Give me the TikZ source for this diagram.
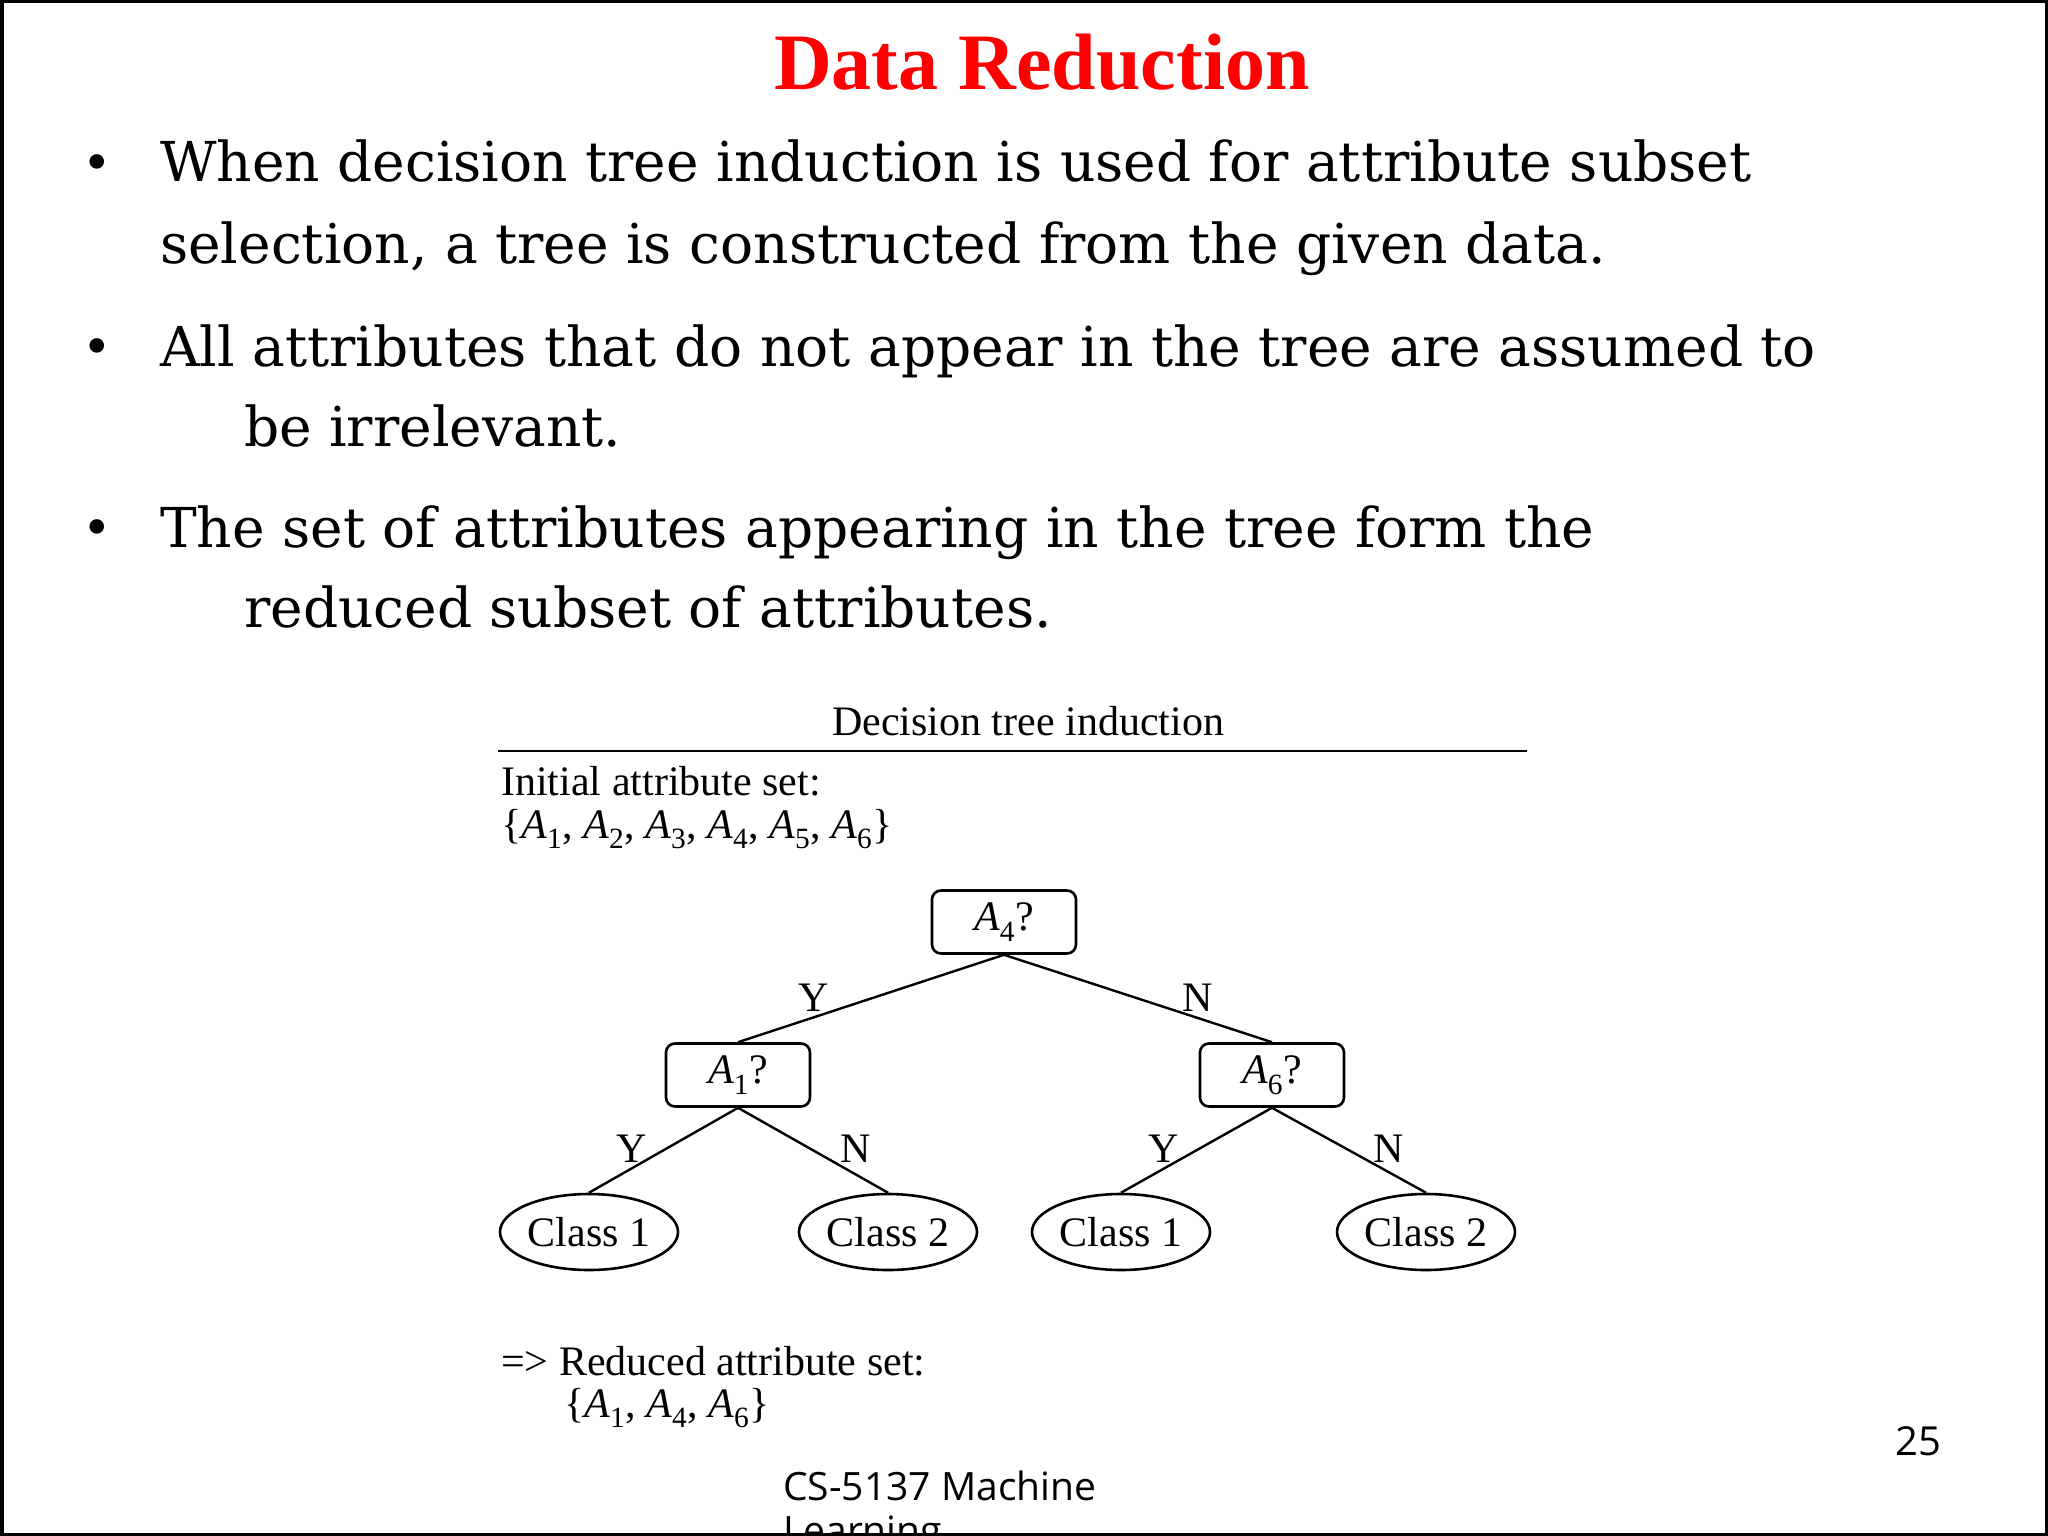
\documentclass[tikz,border=0pt]{standalone}
\usepackage{fontspec}
\setmainfont{DejaVu Serif}
\newfontfamily\titlefont{Liberation Serif}
\newfontfamily\figfont{Liberation Serif}
\newfontfamily\footfont{Open Sans}
\usetikzlibrary{shapes.geometric}
\newcommand{\Ai}[1]{\textit{A}\textsubscript{#1}}
\begin{document}
\begin{tikzpicture}[x=1pt,y=-1pt,
  bodytext/.style={anchor=base west,inner sep=0pt,font=\fontsize{55}{66}\selectfont},
  bul/.style={anchor=base west,inner sep=0pt,font=\fontsize{50}{60}\selectfont},
  fig/.style={inner sep=0pt,font=\figfont\fontsize{42}{50}\selectfont},
  qbox/.style={draw,line width=2.6pt,rounded corners=9pt,minimum width=144pt,minimum height=63pt,inner sep=0pt,font=\figfont\fontsize{42}{50}\selectfont},
  leaf/.style={draw,line width=2.6pt,ellipse,minimum width=178pt,minimum height=76pt,inner sep=0pt,font=\figfont\fontsize{42}{50}\selectfont},
  edge/.style={line width=2.4pt},
  lab/.style={inner sep=0pt,font=\figfont\fontsize{42}{50}\selectfont}]
\useasboundingbox (0,0) rectangle (2048,1536);
\fill[white] (0,0) rectangle (2048,1536);
\begin{scope}
\clip (0,0) rectangle (2048,1536);
\node[anchor=base,inner sep=0pt,text=red,font=\titlefont\bfseries\fontsize{80}{90}\selectfont] (title) at (1042,90) {Data Reduction};
\node[bul] (b1) at (82,180) {•};
\node[bodytext] (t1) at (160,182) {When decision tree induction is used for attribute subset};
\node[bodytext] (t1b) at (160,263) {selection, a tree is constructed from the given data.};
\node[bul] (b2) at (82,364) {•};
\node[bodytext] (t2) at (160,366) {All attributes that do not appear in the tree are assumed to};
\node[bodytext] (t2b) at (244,446) {be irrelevant.};
\node[bul] (b3) at (82,545) {•};
\node[bodytext] (t3) at (160,547) {The set of attributes appearing in the tree form the};
\node[bodytext] (t3b) at (244,627) {reduced subset of attributes.};

\node[fig,anchor=base] (dti) at (1028,735) {Decision tree induction};
\draw[line width=2.6pt] (498,751) -- (1527,751);
\node[fig,anchor=base west] (ias) at (501,795) {Initial attribute set:};
\node[fig,anchor=base west] (iasv) at (501,838) {\{\Ai{1}, \Ai{2}, \Ai{3}, \Ai{4}, \Ai{5}, \Ai{6}\}};

\node[qbox] (a4) at (1004,922) {\Ai{4}?};
\node[qbox] (a1) at (738,1075) {\Ai{1}?};
\node[qbox] (a6) at (1272,1075) {\Ai{6}?};
\node[leaf] (c1) at (589,1232) {Class 1};
\node[leaf] (c2) at (888,1232) {Class 2};
\node[leaf] (c3) at (1121,1232) {Class 1};
\node[leaf] (c4) at (1426,1232) {Class 2};
\draw[edge] (a4.south) -- (a1.north);
\draw[edge] (a4.south) -- (a6.north);
\draw[edge] (a1.south) -- (c1.north);
\draw[edge] (a1.south) -- (c2.north);
\draw[edge] (a6.south) -- (c3.north);
\draw[edge] (a6.south) -- (c4.north);
\node[lab] (ly1) at (814,998) {Y};
\node[lab] (ln1) at (1198,998) {N};
\node[lab] (ly2) at (632,1149) {Y};
\node[lab] (ln2) at (856,1149) {N};
\node[lab] (ly3) at (1164,1149) {Y};
\node[lab] (ln3) at (1389,1149) {N};
\node[fig,anchor=base west] (ras) at (501,1375) {=> Reduced attribute set:};
\node[fig,anchor=base west] (rasv) at (564,1417) {\{\Ai{1}, \Ai{4}, \Ai{6}\}};

\node[anchor=base,inner sep=0pt,font=\footfont\fontsize{40}{46}\selectfont] (pg) at (1918,1455) {25};
\node[anchor=base west,inner sep=0pt,font=\footfont\fontsize{39}{46}\selectfont] (ft) at (783,1500) {CS-5137 Machine};
\node[anchor=base west,inner sep=0pt,font=\footfont\fontsize{39}{46}\selectfont] (ft2) at (783,1544) {Learning};
\end{scope}
\draw[line width=7pt] (0,0) rectangle (2048,1536);
\end{tikzpicture}
\end{document}
